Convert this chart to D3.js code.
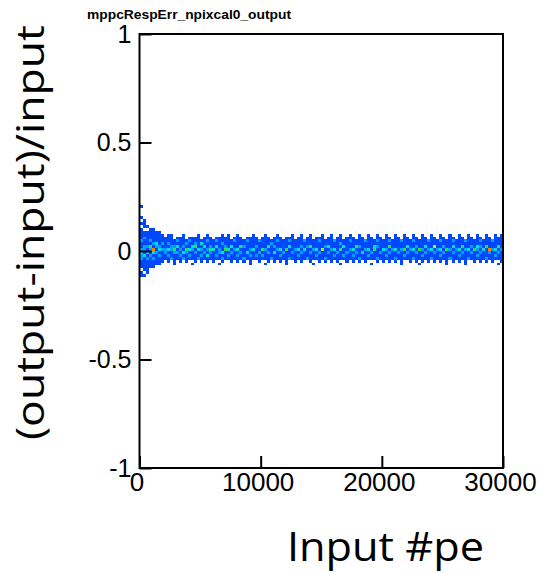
<!DOCTYPE html>
<html>
<head>
<meta charset="utf-8">
<script src="https://cdn.jsdelivr.net/npm/d3@7"></script>
<style>
  html, body { margin: 0; padding: 0; background: #fff; }
  svg { display: block; }
</style>
</head>
<body>
<svg id="chart" width="539" height="573"></svg>
<script>
// ---------------- data ----------------
const chartTitle = "mppcRespErr_npixcal0_output";
const xTitle = "Input #pe";
const yTitle = "(output-input)/input";
const xTicks = [0, 10000, 20000, 30000];
const yTicks = [-1, -0.5, 0, 0.5, 1];
const xDomain = [0, 30000];
const yDomain = [-1, 1];
const xBinWidth = 250;        // pe per histogram column
const yBinWidth = 2 / 150;    // relative error per histogram row

// first y-bin index of each column (bin k spans [k*w, (k+1)*w))
const colStart = [
  -10, -9, -8, -7, -7, -6, -6, -5
].concat(new Array(112).fill(-5));

// colour level of each cell in a column, bottom to top (0 = empty)
const colLevels = [
  "01101112232112111101010001",
  "1011111312211211011100",
  "11111213121111101",
  "0111121241211110",
  "011121361211111",
  "01111212311110",
  "0111213211111",
  "011112121110",
  "00112211110","01121312111","00211221111","11112421100","00112131210",
  "01121211110","00213121111","01112412100","00121311210","10111231110",
  "01112142110","00211311111","01121213100","00112131110","01131211211",
  "00112421110","01111311100","00121131210","10112211110","01213112111",
  "00111421110","00121311111","01112131100","00111211210","01121311111",
  "00112141110","01211121100","00113111210","11121211110","00111311111",
  "00121121110","01112111200","00121411110","10111211111","01112131110",
  "00211112100","01113121110","00111211211","01121311110","00112111100",
  "11111411110","00211131210","00112111111","01111211100","00121311110",
  "01112121111","00111311200","00211121110","01112141111","10111211100",
  "00121311110","01112111210","00111511111","01211121100","00112131110",
  "01111211111","00121311200","01112111110","10111412111","00121131100",
  "01112111110","00111211211","01121311110","00112141100","01211121111",
  "00113111110","01111211200","00121311111","10112111110","00111431100",
  "01211121211","00112111110","01111311100","00121211111","01112141210",
  "00111211100","01211311111","00112111110","11111211200","00121411111",
  "00112131110","01111211100","00211311211","01112121110","10111411100",
  "01121211111","00112131110","01111211200","00211311111","01112151110",
  "00111211100","01121311211","00112121110","11111411100","00211211111",
  "01112131210","00111211100","01121311111","00112141110","11111211200",
  "00211311111","00112121110","01111411100","00121231111","01112121210",
  "00111311100","01211141111","00112611110","01111211200","00121311111",
  "10112141110","01111211111"
];

const levelColors = ["#0048ff", "#00a0ff", "#00e0e0", "#30e040", "#c0f000", "#ff8000"];

// ---------------- drawing ----------------
const svg = d3.select("#chart");
const x = d3.scaleLinear().domain(xDomain).range([139.5, 503]);
const y = d3.scaleLinear().domain(yDomain).range([468, 34]);
const color = d3.scaleOrdinal().domain([1, 2, 3, 4, 5, 6]).range(levelColors);

const cells = [];
colLevels.forEach((s, i) => {
  for (let j = 0; j < s.length; j++) {
    const lv = +s[j];
    if (lv > 0) cells.push({ i, k: colStart[i] + j, lv });
  }
});

svg.append("g")
  .selectAll("rect")
  .data(cells)
  .join("rect")
  .attr("x", d => x(d.i * xBinWidth))
  .attr("width", x(xBinWidth) - x(0))
  .attr("y", d => y((d.k + 1) * yBinWidth))
  .attr("height", y(0) - y(yBinWidth))
  .attr("fill", d => color(d.lv))
  .attr("shape-rendering", "crispEdges");

// frame
svg.append("rect")
  .attr("x", x(xDomain[0])).attr("y", y(yDomain[1]))
  .attr("width", x(xDomain[1]) - x(xDomain[0]))
  .attr("height", y(yDomain[0]) - y(yDomain[1]))
  .attr("fill", "none").attr("stroke", "#000").attr("stroke-width", 2);

// y axis
const yAxis = d3.axisLeft(y).tickValues(yTicks).tickSizeInner(-12).tickSizeOuter(0)
  .tickPadding(8).tickFormat(d => String(d));
const gy = svg.append("g").attr("transform", `translate(${x(0)},0)`).call(yAxis);
gy.select(".domain").remove();
gy.selectAll(".tick line").attr("stroke-width", 2);
gy.selectAll(".tick text").attr("font-family", "Liberation Sans, Arial, sans-serif")
  .attr("font-size", 25).attr("fill", "#000");

// x axis
const xAxis = d3.axisBottom(x).tickValues(xTicks).tickSizeInner(-12).tickSizeOuter(0)
  .tickPadding(5).tickFormat(d => String(d));
const gx = svg.append("g").attr("transform", `translate(0,${y(-1)})`).call(xAxis);
gx.select(".domain").remove();
gx.selectAll(".tick line").attr("stroke-width", 2);
gx.selectAll(".tick text").attr("font-family", "Liberation Sans, Arial, sans-serif")
  .attr("font-size", 26).attr("fill", "#000").attr("dx", -3);

// title
svg.append("text")
  .attr("x", 87).attr("y", 19)
  .attr("font-family", "Liberation Sans, Arial, sans-serif")
  .attr("font-weight", "bold").attr("font-size", 12.5)
  .attr("textLength", 204).attr("lengthAdjust", "spacingAndGlyphs")
  .text(chartTitle);

// axis titles
svg.append("text")
  .attr("x", 287).attr("y", 561)
  .attr("font-family", "Open Sans, Liberation Sans, sans-serif")
  .attr("font-size", 40)
  .attr("textLength", 197).attr("lengthAdjust", "spacingAndGlyphs")
  .text(xTitle);

svg.append("text")
  .attr("transform", "translate(44,440) rotate(-90)")
  .attr("font-family", "Open Sans, Liberation Sans, sans-serif")
  .attr("font-size", 38)
  .attr("textLength", 415).attr("lengthAdjust", "spacingAndGlyphs")
  .text(yTitle);
</script>
</body>
</html>
